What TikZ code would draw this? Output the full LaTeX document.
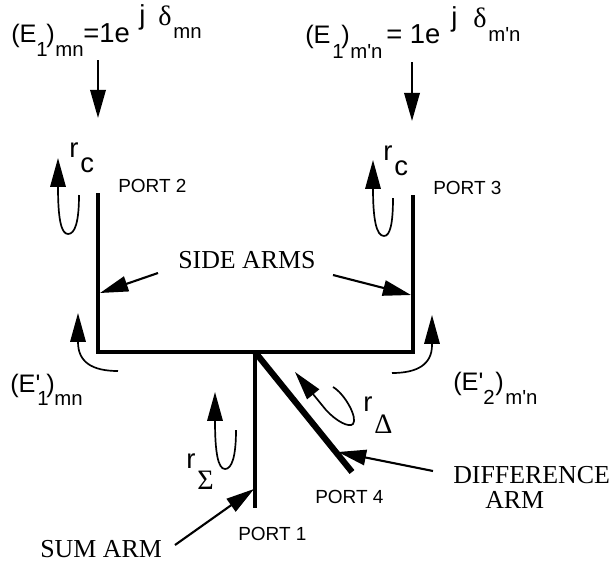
\documentclass[tikz,border=0pt]{standalone}
\usepackage{fontspec}
\newfontfamily\labelsans{Liberation Sans}
\newfontfamily\serifcaps{Liberation Serif}
\usetikzlibrary{arrows.meta}
\tikzset{
    lbl/.style={anchor=base west,inner sep=0pt,font=\labelsans\fontsize{18}{20}\selectfont},
    biglbl/.style={anchor=base west,inner sep=0pt,font=\labelsans\fontsize{19.5}{22}\selectfont},
    subl/.style={anchor=base west,inner sep=0pt,font=\labelsans\fontsize{14.5}{16}\selectfont},
    portl/.style={anchor=base west,inner sep=0pt,font=\labelsans\fontsize{13.5}{15}\selectfont},
    arml/.style={anchor=base west,inner sep=0pt,font=\serifcaps\fontsize{18.4}{20}\selectfont},
    greekl/.style={anchor=base west,inner sep=0pt,font=\serifcaps\fontsize{20}{22}\selectfont},
    wave/.style={line width=1.2pt,-{Triangle[length=20.5pt,width=11pt]}},
    guide/.style={line width=1.5pt,-{Triangle[length=20pt,width=11pt]}},
    arm/.style={line width=2.9pt},
}
\begin{document}
\begin{tikzpicture}[x=0.025cm,y=-0.025cm]
        \useasboundingbox (0,0) rectangle (611,567);

        % Left incident field
        \node[lbl]  (eaopen)  at (11,42)  {(E};
        \node[subl] (easub)   at (36,56)  {1};
        \node[lbl]  (eaclose) at (46,42)  {)};
        \node[subl] (eamn)    at (55,56)  {mn};
        \node[biglbl] (eaeq)  at (83,42)  {=1e};
        \node[biglbl] (eaj)   at (139,24) {j};
        \node[greekl] (eadelta) at (158,25) {δ};
        \node[subl] (eamnb)   at (173,38) {mn};

        % Right incident field
        \node[lbl]  (ebopen)  at (305,43) {(E};
        \node[subl] (ebsub)   at (332,58) {1};
        \node[lbl]  (ebclose) at (341,43) {)};
        \node[subl] (ebmn)    at (350,58) {m'n};
        \node[biglbl] (ebeq)  at (386,43) {= 1e};
        \node[biglbl] (ebj)   at (451,26) {j};
        \node[greekl] (ebdelta) at (473,27) {δ};
        \node[subl] (ebmnb)   at (488,41) {m'n};

        % Reflected fields
        \node[lbl]  (ecopen)  at (10,392)  {(E'};
        \node[subl] (ecsub)   at (37,405)  {1};
        \node[lbl]  (ecclose) at (46,392)  {)};
        \node[subl] (ecmn)    at (54,405)  {mn};

        \node[lbl]  (edopen)  at (453,390) {(E'};
        \node[subl] (edsub)   at (483,404) {2};
        \node[lbl]  (edclose) at (495,390) {)};
        \node[subl] (edmn)    at (505,404) {m'n};

        % Reflection coefficients
        \node[biglbl] (rca) at (69,157)  {r};
        \node[biglbl] (cca) at (80,172)  {c};
        \node[biglbl] (rcb) at (383,160) {r};
        \node[biglbl] (ccb) at (394,175) {c};
        \node[biglbl] (rs)  at (186,468) {r};
        \node[greekl] (ss)  at (197,489) {Σ};
        \node[biglbl] (rd)  at (363,411) {r};
        \node[greekl] (dd)  at (374,433) {Δ};

        % Port names
        \node[portl] (porta) at (238,540) {PORT 1};
        \node[portl] (portb) at (118,192) {PORT 2};
        \node[portl] (portc) at (433,194) {PORT 3};
        \node[portl] (portd) at (315,503) {PORT 4};

        % Arm names
        \node[arml] (sidearms) at (178,268) {SIDE ARMS};
        \node[arml] (sumarm)   at (40,557)  {SUM ARM};
        \node[arml] (diffarm)  at (453,483) {DIFFERENCE};
        \node[arml] (diffarmb) at (485,508) {ARM};

        % Waveguide arms
        \coordinate (armb) at (98,193);
        \coordinate (cornerl) at (98,352);
        \coordinate (cornerr) at (413,352);
        \coordinate (armc) at (413,195);
        \coordinate (junction) at (255,352);
        \coordinate (arma) at (255,508);
        \coordinate (armd) at (352,472);
        \draw[arm,line join=miter] (armb) -- (cornerl) -- (cornerr) -- (armc);
        \draw[arm,line width=2.6pt] (junction) -- (arma);
        \draw[arm,line width=4.4pt] (junction) -- (armd);

        % Incident arrows
        \coordinate (ina) at (98,60);
        \coordinate (inatip) at (98,118);
        \coordinate (inb) at (412,62);
        \coordinate (inbtip) at (412,121);
        \draw[guide] (ina) -- (inatip);
        \draw[guide] (inb) -- (inbtip);

        % Name arrows
        \coordinate (sidel) at (158,273);
        \coordinate (sideltip) at (100,293);
        \coordinate (sider) at (333,275);
        \coordinate (sidertip) at (411,295);
        \coordinate (sumst) at (175,545);
        \coordinate (sumtip) at (254,489);
        \coordinate (diffst) at (433,471);
        \coordinate (difftip) at (338,452);
        \draw[guide] (sidel) -- (sideltip);
        \draw[guide] (sider) -- (sidertip);
        \draw[guide] (sumst) -- (sumtip);
        \draw[guide] (diffst) -- (difftip);

        % Curved arrows
        \draw[wave] (79,195) .. controls (79,222) and (75,234) .. (68,234) .. controls (61,234) and (58,218) .. (58,187) -- (58,158);
        \draw[wave] (393,198) .. controls (393,224) and (390,236) .. (384,236) .. controls (376,236) and (373,218) .. (373,188) -- (373,160);
        \draw[wave] (236,430) .. controls (236,456) and (232,469) .. (225,469) .. controls (218,469) and (215,452) .. (215,421) -- (215,392);
        \draw[wave] (118,371) .. controls (92,371) and (78,362) .. (78,342) -- (78,313);
        \draw[wave] (392,373) .. controls (418,373) and (432,364) .. (432,345) -- (432,315);
        \draw[wave] (333,387) .. controls (345,394) and (358,418) .. (353,424) .. controls (349,428) and (336,421) .. (326,410) -- (295,372);
\end{tikzpicture}
\end{document}
